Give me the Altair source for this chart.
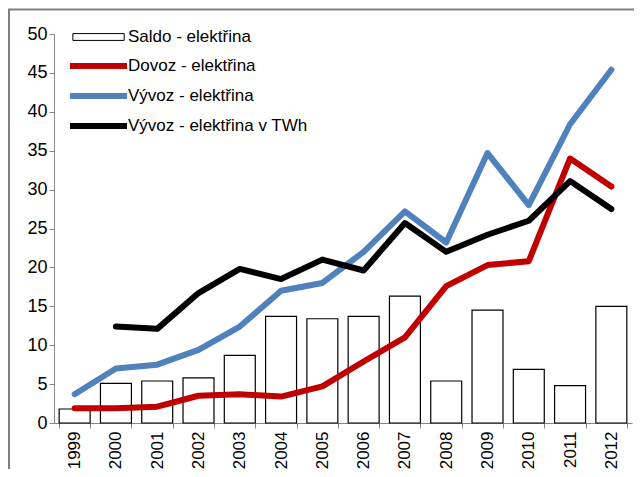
import altair as alt
import pandas as pd

years = [str(y) for y in range(1999, 2013)]
saldo = [1.8, 5.1, 5.4, 5.8, 8.7, 13.7, 13.4, 13.7, 16.3, 5.4, 14.5, 6.9, 4.8, 15.0]
dovoz = [1.9, 1.9, 2.1, 3.5, 3.7, 3.4, 4.7, 7.9, 11.0, 17.6, 20.3, 20.8, 34.0, 30.4]
vyvoz = [3.7, 7.0, 7.5, 9.4, 12.4, 17.0, 18.0, 22.0, 27.2, 23.2, 34.7, 28.0, 38.4, 45.4]
vyvoz_twh = [None, 12.4, 12.1, 16.7, 19.8, 18.5, 21.0, 19.6, 25.7, 22.0, 24.2, 26.0, 31.1, 27.5]
y_ticks = [0, 5, 10, 15, 20, 25, 30, 35, 40, 45, 50]

bar_name = "Saldo - elektřina"
line_names = ["Dovoz - elektřina", "Vývoz - elektřina", "Vývoz - elektřina v TWh"]
line_colors = ["#C00000", "#4F81BD", "#000000"]
title_text = "mld. Kč, reálný vývoz v TWh)"

FONT = "Liberation Sans"

bars_df = pd.DataFrame({"year": years, "value": saldo, "series": bar_name})
rows = []
for name, vals in zip(line_names, [dovoz, vyvoz, vyvoz_twh]):
    for y, v in zip(years, vals):
        if v is not None:
            rows.append({"year": y, "value": v, "series": name})
lines_df = pd.DataFrame(rows)

x_axis = alt.Axis(
    labelAngle=-90,
    tickBand="extent",
    labelFontSize=17,
    labelFont=FONT,
    labelColor="black",
    labelPadding=3,
    tickSize=5,
    domainColor="#868686",
    tickColor="#868686",
    grid=False,
)
y_axis = alt.Axis(
    values=y_ticks,
    labelOverlap=False,
    labelFontSize=18,
    labelFont=FONT,
    labelColor="black",
    labelPadding=2,
    tickSize=5,
    domainColor="#868686",
    tickColor="#868686",
    grid=False,
)

x_enc = alt.X("year:O", title=None, scale=alt.Scale(paddingInner=0.25, paddingOuter=0.125), axis=x_axis)
y_enc = alt.Y("value:Q", title=None, scale=alt.Scale(domain=[0, 50], nice=False, zero=True), axis=y_axis)

bars = alt.Chart(bars_df).mark_bar(stroke="black", strokeWidth=1.2).encode(
    x=x_enc,
    y=y_enc,
    fill=alt.Fill(
        "series:N",
        scale=alt.Scale(domain=[bar_name], range=["white"]),
        legend=alt.Legend(
            orient="none",
            legendX=36,
            legendY=-5.5,
            title=None,
            padding=0,
            symbolType="M-4.5,-0.6H4.5V0.6H-4.5Z",
            symbolSize=130,
            symbolStrokeColor="black",
            symbolStrokeWidth=1,
            labelOffset=21,
            labelFontSize=17,
            labelFont=FONT,
            labelColor="black",
            labelLimit=400,
        ),
    ),
)

lines = alt.Chart(lines_df).mark_line(strokeWidth=6, strokeCap="round", strokeJoin="round").encode(
    x=x_enc,
    y=y_enc,
    stroke=alt.Stroke(
        "series:N",
        scale=alt.Scale(domain=line_names, range=line_colors),
        legend=alt.Legend(
            orient="none",
            legendX=35.5,
            legendY=23,
            title=None,
            padding=0,
            symbolType="M-5,0H5",
            symbolSize=130,
            symbolStrokeWidth=6,
            labelOffset=20.5,
            rowPadding=6,
            labelFontSize=17,
            labelFont=FONT,
            labelColor="black",
            labelLimit=400,
        ),
    ),
    order=alt.Order("year:O"),
)

frame = alt.Chart(pd.DataFrame({"a": [0]})).mark_rect(
    fillOpacity=0, stroke="#7F7F7F", strokeWidth=2
).encode(
    x=alt.value(-45), x2=alt.value(700), y=alt.value(-24.5), y2=alt.value(600)
)

title = alt.Chart(pd.DataFrame({"t": [title_text]})).mark_text(
    font=FONT, fontSize=20, baseline="bottom", align="center", color="black"
).encode(text="t:N", x=alt.value(256), y=alt.value(-27))

chart = alt.layer(frame, bars, lines, title).properties(
    width=578,
    height=389,
    autosize=alt.AutoSizeParams(type="none"),
    padding={"left": 46, "top": 26, "right": 2, "bottom": 46},
).configure_view(strokeWidth=0).configure_axis(labelOverlap=False).resolve_scale(x="shared")

chart.save("out.html", embed_options={"renderer": "svg", "actions": False})
